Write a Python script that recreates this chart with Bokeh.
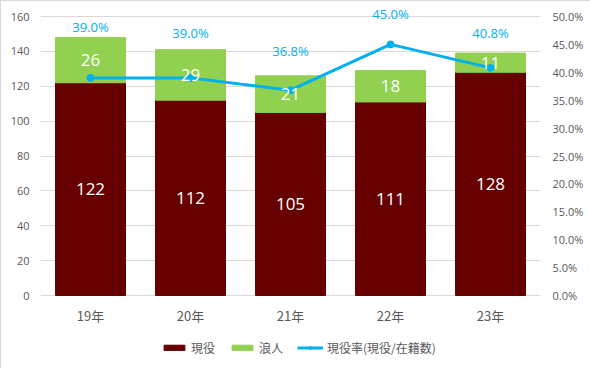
from bokeh.plotting import figure
from bokeh.models import (ColumnDataSource, Range1d, FactorRange, LinearAxis, FixedTicker,
                          NumeralTickFormatter, Legend, LegendItem)
from bokeh.core.properties import value
from bokeh.embed import file_html
from bokeh.resources import INLINE

# ---- data ----
years = ["19年", "20年", "21年", "22年", "23年"]
genneki = [122, 112, 105, 111, 128]
ronin = [26, 29, 21, 18, 11]
rate = [0.390, 0.390, 0.368, 0.450, 0.408]
left_ticks = [0, 20, 40, 60, 80, 100, 120, 140, 160]
right_ticks = [0.0, 0.05, 0.10, 0.15, 0.20, 0.25, 0.30, 0.35, 0.40, 0.45, 0.50]

# ---- styles ----
C_GEN = "#660000"
C_RON = "#92D050"
C_LINE = "#00B0F0"
C_TXT = "#595959"
C_GRID = "#D9D9D9"
pct_label_offset_px = [51, 45, 39, 30, 35]
CJK = "Noto Sans CJK JP"
LAT = "Open Sans"
TOP_PAD_PX = 11      # headroom above the top gridline
GRID_H = 279         # pixels between the 0 and top gridlines
BOTTOM_PX = 74       # room under the 0 line for category labels and legend
FRAME_H = TOP_PAD_PX + GRID_H + BOTTOM_PX

left_lo = -left_ticks[-1] * BOTTOM_PX / GRID_H
left_hi = left_ticks[-1] * (GRID_H + TOP_PAD_PX) / GRID_H
right_lo = -right_ticks[-1] * BOTTOM_PX / GRID_H
right_hi = right_ticks[-1] * (GRID_H + TOP_PAD_PX) / GRID_H

src = ColumnDataSource(dict(
    x=years, gen=genneki, ron=ronin, rate=rate,
    ron_top=[g + r for g, r in zip(genneki, ronin)],
    gen_mid=[g / 2 for g in genneki],
    ron_mid=[g + r / 2 for g, r in zip(genneki, ronin)],
    gen_lbl=[str(v) for v in genneki],
    ron_lbl=[str(v) for v in ronin],
    pct_lbl=["{:.1f}%".format(v * 100) for v in rate],
    pct_off=[-o for o in pct_label_offset_px],
))

p = figure(x_range=FactorRange(*years, range_padding=0), y_range=Range1d(left_lo, left_hi),
           frame_width=500, frame_height=FRAME_H, output_backend="svg", toolbar_location=None,
           min_border_left=39, min_border_right=50, min_border_top=4, min_border_bottom=0)
p.styles = {"border": "1px solid #D9D9D9", "box-sizing": "border-box"}
p.extra_y_ranges = {"pct": Range1d(right_lo, right_hi)}
p.outline_line_color = None
p.xgrid.grid_line_color = None
p.ygrid.grid_line_color = C_GRID
p.ygrid.grid_line_width = 1

# left & bottom axes
p.yaxis.ticker = FixedTicker(ticks=left_ticks)
for ax in [p.yaxis[0], p.xaxis[0]]:
    ax.axis_line_color = None
    ax.major_tick_line_color = None
    ax.minor_tick_line_color = None
    ax.major_tick_out = 0
    ax.major_tick_in = 0
    ax.major_label_text_color = C_TXT
p.yaxis.major_label_text_font = LAT
p.yaxis.major_label_text_font_size = "11px"
p.yaxis.major_label_standoff = 11
p.xaxis.fixed_location = 0
p.xaxis.major_label_text_font = CJK
p.xaxis.major_label_text_font_size = "13px"
p.xaxis.major_label_standoff = 10

# right axis
ra = LinearAxis(y_range_name="pct", ticker=FixedTicker(ticks=right_ticks),
                formatter=NumeralTickFormatter(format="0.0%"))
ra.axis_line_color = None
ra.major_tick_line_color = None
ra.minor_tick_line_color = None
ra.major_tick_out = 0
ra.major_tick_in = 0
ra.major_label_text_color = C_TXT
ra.major_label_text_font = LAT
ra.major_label_text_font_size = "11px"
ra.major_label_standoff = 12
p.add_layout(ra, "right")

# bars
r_gen = p.vbar(x="x", bottom=0, top="gen", width=0.7, color=C_GEN, source=src)
r_ron = p.vbar(x="x", bottom="gen", top="ron_top", width=0.7, color=C_RON, source=src)

# line
r_line = p.line(x="x", y="rate", y_range_name="pct", line_color=C_LINE, line_width=3, source=src)
r_pts = p.scatter(x="x", y="rate", y_range_name="pct", size=7, color=C_LINE, source=src)

# labels
p.text(x="x", y="gen_mid", text="gen_lbl", source=src, text_color="white", text_font=value(LAT),
       text_font_size="17px", text_align="center", text_baseline="middle")
p.text(x="x", y="ron_mid", text="ron_lbl", source=src, text_color="white", text_font=value(LAT),
       text_font_size="17px", text_align="center", text_baseline="middle")
p.text(x="x", y="rate", y_range_name="pct", text="pct_lbl", y_offset="pct_off", source=src,
       text_color=C_LINE, text_font=value(LAT), text_font_size="13px", text_align="center",
       text_baseline="middle")

legend = Legend(items=[LegendItem(label="現役", renderers=[r_gen]),
                       LegendItem(label="浪人", renderers=[r_ron]),
                       LegendItem(label="現役率(現役/在籍数)", renderers=[r_line, r_pts])],
                orientation="horizontal", location=(121, 13))
legend.border_line_color = None
legend.background_fill_alpha = 0
legend.label_text_font = CJK
legend.label_text_font_size = "12px"
legend.label_text_color = C_TXT
legend.label_height = 14
legend.glyph_width = 26
legend.glyph_height = 7
legend.label_standoff = 4
legend.spacing = 14
legend.padding = 0
legend.margin = 0
p.add_layout(legend, "center")

open("out.html", "w").write(file_html(p, INLINE))
